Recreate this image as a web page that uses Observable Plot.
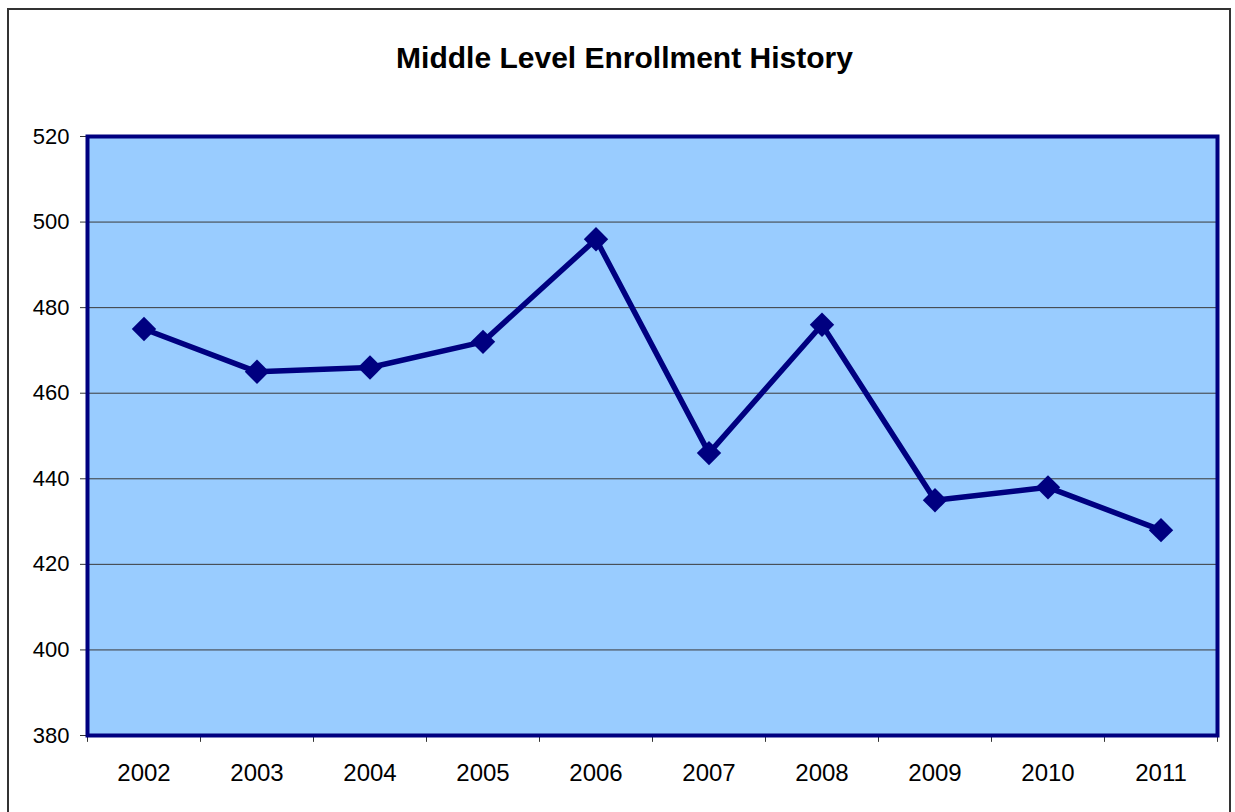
<!DOCTYPE html>
<html>
<head>
<meta charset="utf-8">
<script src="https://cdn.jsdelivr.net/npm/d3@7"></script>
<script src="https://cdn.jsdelivr.net/npm/@observablehq/plot@0.6"></script>
<style>
  html, body { margin: 0; padding: 0; background: #fff; }
  body { width: 1235px; height: 812px; position: relative; overflow: hidden; font-family: "Liberation Sans", Arial, sans-serif; }
  #border { position: absolute; left: 7px; top: 8px; width: 1224px; height: 820px; border: 2px solid #333; box-sizing: border-box; }
  #title { position: absolute; left: 12px; width: 1225px; top: 41px; text-align: center; font-size: 30px; font-weight: bold; color: #000; }
  #chart { position: absolute; left: 0; top: 0; }
</style>
</head>
<body>
<div id="border"></div>
<div id="title">Middle Level Enrollment History</div>
<div id="chart"></div>
<script>
const years = ["2002","2003","2004","2005","2006","2007","2008","2009","2010","2011"];
const enrollment = [475, 465, 466, 472, 496, 446, 476, 435, 438, 428];
const yTicks = [380, 400, 420, 440, 460, 480, 500, 520];

const data = years.map((y, i) => ({year: y, value: enrollment[i]}));
const bandHalf = (1235 - 87 - 18) / years.length / 2;

const plot = Plot.plot({
  width: 1235,
  height: 812,
  marginLeft: 87,
  marginRight: 18,
  marginTop: 136,
  marginBottom: 77,
  style: {fontFamily: "'Liberation Sans', Arial, sans-serif", fontSize: "22px", color: "#000", background: "transparent"},
  x: {type: "band", domain: years, padding: 0, label: null},
  y: {domain: [380, 520], label: null},
  marks: [
    Plot.frame({fill: "#99CCFF", stroke: null}),
    Plot.ruleY(yTicks.filter(t => t > 380 && t < 520), {stroke: "#3a3a3a", strokeWidth: 1}),
    Plot.axisY({ticks: yTicks, tickSize: 7, tickPadding: 11, stroke: "#333", label: null, fontSize: 22}),
    Plot.axisX({tickSize: 0, tickPadding: 28, label: null, fontSize: 24}),
    Plot.ruleX(years, {x: d => d, dx: -bandHalf, y1: 380, y2: 378.4, stroke: "#333"}),
    Plot.ruleX(years.slice(-1), {x: d => d, dx: bandHalf, y1: 380, y2: 378.4, stroke: "#333"}),
    Plot.line(data, {x: "year", y: "value", stroke: "#000080", strokeWidth: 5.5, strokeLinejoin: "miter"}),
    Plot.dot(data, {x: "year", y: "value", symbol: "diamond2", r: 11, fill: "#000080", stroke: null}),
    Plot.frame({stroke: "#000080", strokeWidth: 4, fill: null})
  ]
});
document.getElementById("chart").appendChild(plot);
</script>
</body>
</html>
